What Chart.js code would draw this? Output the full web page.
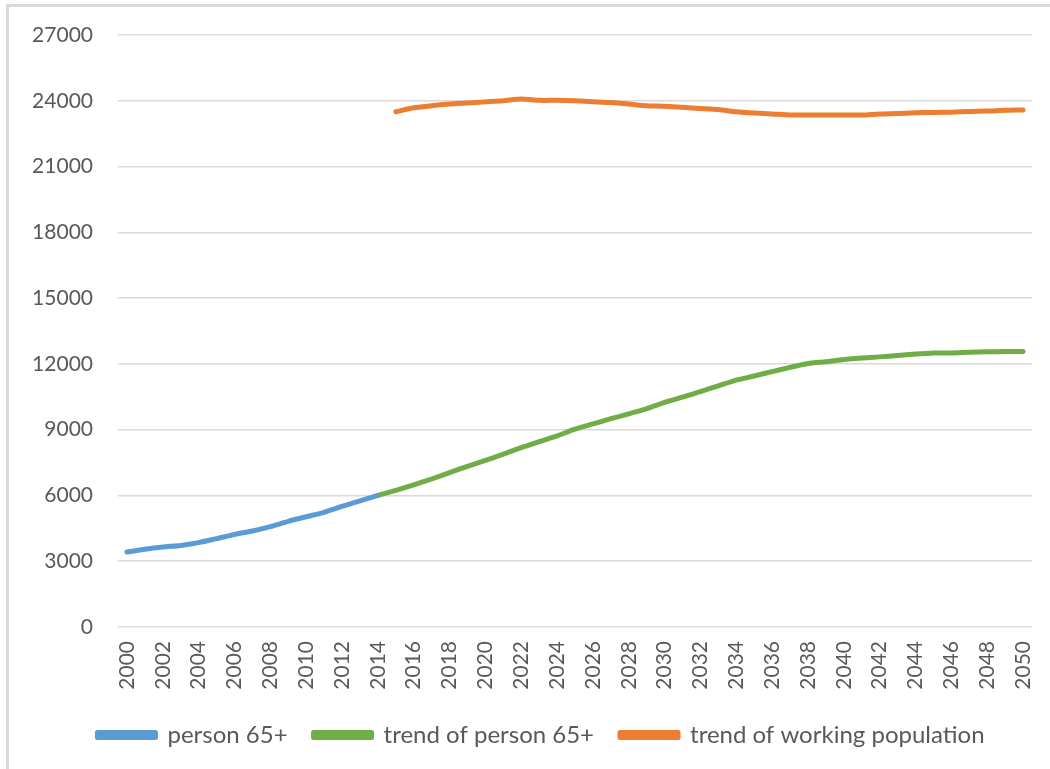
<!DOCTYPE html>
<html>
<head>
<meta charset="utf-8">
<script src="https://cdn.jsdelivr.net/npm/chart.js@4/dist/chart.umd.min.js"></script>
<style>
  html, body { margin: 0; padding: 0; background: #fff; }
  #wrap { position: relative; width: 1050px; height: 769px; }
  #frame { position: absolute; left: 6px; top: 4px; width: 1100px; height: 800px;
           border-top: 3px solid #d9d9d9; border-left: 3px solid #d9d9d9; pointer-events: none; }
  canvas { position: absolute; left: 0; top: 0; }
</style>
</head>
<body>
<div id="wrap">
  <canvas id="c" width="1050" height="769"></canvas>
  <div id="frame"></div>
</div>
<script>
const years = [];
for (let y = 2000; y <= 2050; y++) years.push(String(y));

const person65 = [3420, 3550, 3650, 3720, 3850, 4030, 4220, 4380, 4580, 4820, 5030, 5230, 5500, 5750, 6000];

const trendPerson65 = [6000, 6230, 6480, 6750, 7040, 7330, 7600, 7880, 8180, 8450,
  8720, 9020, 9260, 9500, 9720, 9960, 10250, 10480, 10740, 11000,
  11260, 11450, 11650, 11840, 12020, 12100, 12200, 12270, 12320, 12380,
  12450, 12500, 12500, 12530, 12550, 12560, 12560];

const trendWorking = [23500, 23680, 23770, 23850, 23900, 23950, 24000, 24080, 24020, 24020,
  24000, 23960, 23920, 23850, 23770, 23750, 23700, 23650, 23600, 23500,
  23440, 23400, 23350, 23350, 23350, 23350, 23350, 23400, 23420, 23450,
  23470, 23480, 23510, 23530, 23570, 23580];

const yTicks = [0, 3000, 6000, 9000, 12000, 15000, 18000, 21000, 24000, 27000];

function pad(arr, startYear) {
  const out = new Array(years.length).fill(null);
  const off = startYear - 2000;
  arr.forEach((v, i) => { out[off + i] = v; });
  return out;
}

const FONT = 'Lato, "Open Sans", sans-serif';
const TXT = '#595959';

const shiftLegend = {
  id: 'shiftLegend',
  afterLayout(chart) {
    if (chart.legend) { chart.legend.left += 25; chart.legend.right += 25; }
  }
};

new Chart(document.getElementById('c'), {
  type: 'line',
  plugins: [shiftLegend],
  data: {
    labels: years,
    datasets: [
      { label: 'person 65+', data: pad(person65, 2000), borderColor: '#5B9BD5', backgroundColor: '#5B9BD5' },
      { label: 'trend of person 65+', data: pad(trendPerson65, 2014), borderColor: '#70AD47', backgroundColor: '#70AD47' },
      { label: 'trend of working population', data: pad(trendWorking, 2015), borderColor: '#ED7D31', backgroundColor: '#ED7D31' }
    ].map(d => Object.assign(d, { borderWidth: 5, pointRadius: 0, tension: 0.25, borderCapStyle: 'round', borderJoinStyle: 'round', spanGaps: false, fill: false }))
  },
  options: {
    responsive: false,
    animation: false,
    layout: { padding: { top: 35, left: 0, right: 18, bottom: 12 } },
    plugins: {
      legend: {
        position: 'bottom',
        labels: {
          color: TXT,
          font: { family: FONT, size: 24 },
          boxWidth: 58,
          boxHeight: 5,
          padding: 26
        }
      },
      tooltip: { enabled: false }
    },
    scales: {
      x: {
        offset: true,
        grid: { display: false, drawTicks: false },
        border: { display: false },
        ticks: {
          color: TXT,
          font: { family: FONT, size: 21 },
          autoSkip: false,
          maxRotation: 90,
          minRotation: 90,
          padding: 14,
          callback: function(v, i) { return i % 2 === 0 ? this.getLabelForValue(v) : null; }
        },
        afterFit: s => { s.height = 70; s.paddingRight = 0; s.paddingLeft = 0; }
      },
      y: {
        min: 0,
        max: 27000,
        afterBuildTicks: s => { s.ticks = yTicks.map(v => ({ value: v })); },
        grid: { color: '#d9d9d9', lineWidth: 1.5, drawTicks: false },
        border: { display: false },
        ticks: {
          color: TXT,
          font: { family: FONT, size: 21 },
          padding: 25,
          callback: v => String(v)
        },
        afterFit: s => { s.width = 118; s.paddingTop = 0; s.paddingBottom = 0; }
      }
    }
  }
});
</script>
</body>
</html>
